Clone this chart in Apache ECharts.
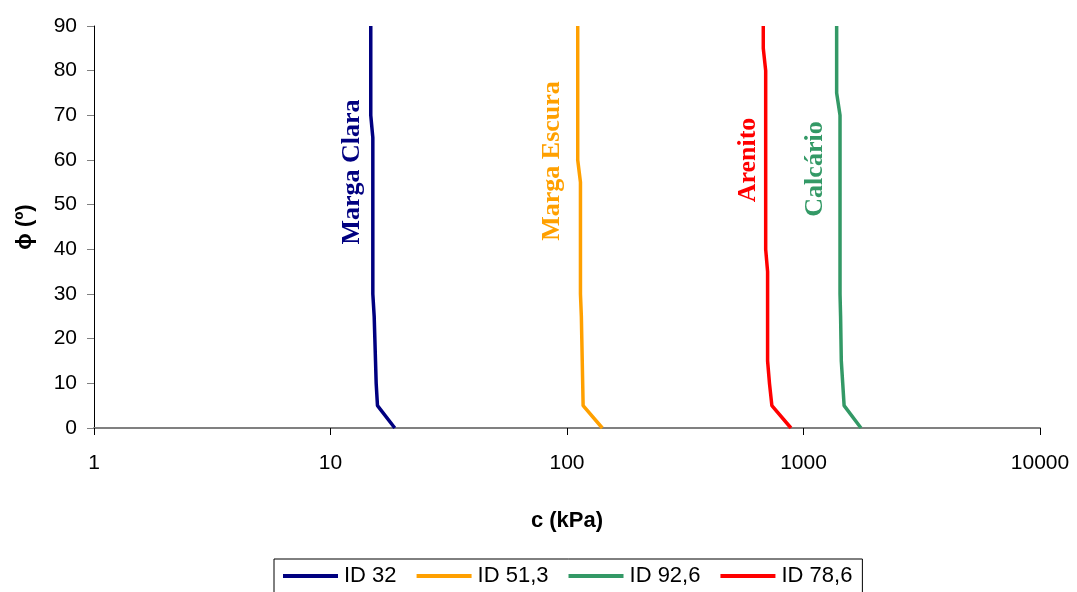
<!DOCTYPE html>
<html>
<head>
<meta charset="utf-8">
<script src="https://cdn.jsdelivr.net/npm/echarts@6/dist/echarts.min.js"></script>
<style>html,body{margin:0;padding:0;background:#fff}#c{width:1077px;height:592px}</style>
</head>
<body>
<div id="c"></div>
<script>
const phi = [0, 5, 10, 15, 20, 25, 30, 35, 40, 45, 50, 55, 60, 65, 70, 75, 80, 85, 90];
const id32 = [18.7, 15.8, 15.6, 15.5, 15.4, 15.3, 15.1, 15.1, 15.1, 15.1, 15.1, 15.1, 15.1, 15.1, 14.8, 14.8, 14.8, 14.8, 14.8];
const id513 = [141, 117, 116.5, 116, 115.5, 115, 114, 114, 114, 114, 114, 114, 111, 111, 111, 111, 111, 111, 111];
const id926 = [1750, 1485, 1465, 1445, 1440, 1435, 1427, 1427, 1427, 1427, 1427, 1427, 1427, 1427, 1427, 1381, 1381, 1381, 1381];
const id786 = [885, 735, 718, 705, 705, 705, 705, 705, 692, 692, 692, 692, 692, 692, 692, 692, 692, 676, 676];
const seriesNames = ['ID 32', 'ID 51,3', 'ID 92,6', 'ID 78,6'];
const xTicks = [1, 10, 100, 1000, 10000];
const yTicks = [0, 10, 20, 30, 40, 50, 60, 70, 80, 90];
const labels = ['Marga Clara', 'Marga Escura', 'Arenito', 'Calcário'];

const colors = ['#000080', '#FFA000', '#339966', '#FF0000'];
const labelColors = ['#000080', '#FFA000', '#FF0000', '#339966'];
const values = [id32, id513, id926, id786];
const chart = echarts.init(document.getElementById('c'));
const font = 'Liberation Sans, Arial, sans-serif';
chart.setOption({
  animation: false,
  grid: {left: 94, right: 37, top: 26, bottom: 164},
  xAxis: {
    type: 'log', logBase: 10, min: xTicks[0], max: xTicks[xTicks.length - 1],
    name: 'c (kPa)', nameLocation: 'middle', nameGap: 82,
    nameTextStyle: {fontFamily: font, fontSize: 22, fontWeight: 'bold', color: '#000'},
    axisLine: {lineStyle: {color: '#808080', width: 2}},
    axisTick: {show: true, length: 7, lineStyle: {color: '#000', width: 1}},
    axisLabel: {fontFamily: font, fontSize: 21, color: '#000', margin: 25, formatter: v => String(Math.round(v))},
    splitLine: {show: false}, minorTick: {show: false}
  },
  yAxis: {
    type: 'value', min: yTicks[0], max: yTicks[yTicks.length - 1], interval: 10,
    name: 'ϕ (º)', nameLocation: 'middle', nameGap: 58, nameRotate: 90,
    nameTextStyle: {fontFamily: font, fontSize: 22, fontWeight: 'bold', color: '#000'},
    axisLine: {show: true, lineStyle: {color: '#000', width: 1}},
    axisTick: {show: true, length: 7, lineStyle: {color: '#808080', width: 1}},
    axisLabel: {fontFamily: font, fontSize: 21, color: '#000', margin: 17},
    splitLine: {show: false}
  },
  legend: {
    left: 274, top: 559,
    data: seriesNames,
    icon: 'rect',
    itemWidth: 55, itemHeight: 4, itemGap: 20,
    padding: [6, 10, 6, 9],
    borderColor: '#000', borderWidth: 1,
    textStyle: {fontFamily: font, fontSize: 22, color: '#000', padding: [0, 0, 0, 1]}
  },
  series: seriesNames.map((n, i) => ({
    name: n, type: 'line', symbol: 'none', color: colors[i],
    lineStyle: {width: 3.5, color: colors[i]},
    data: values[i].map((v, k) => [v, phi[k]])
  })),
  graphic: [
    {x: 352, y: 172, t: 0}, {x: 552, y: 161, t: 1}, {x: 748, y: 160, t: 2}, {x: 815, y: 169, t: 3}
  ].map(p => ({
    type: 'text', x: p.x, y: p.y, rotation: Math.PI / 2,
    style: {text: labels[p.t], fill: labelColors[p.t], font: 'bold 26px "Liberation Serif", "Times New Roman", serif', align: 'center', verticalAlign: 'middle'}
  }))
});
</script>
</body>
</html>
